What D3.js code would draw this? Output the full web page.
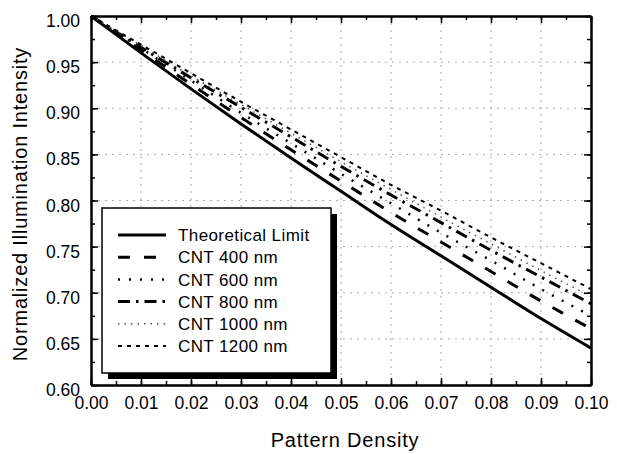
<!DOCTYPE html>
<html>
<head>
<meta charset="utf-8">
<script src="https://cdn.jsdelivr.net/npm/d3@7"></script>
<style>
  body { margin: 0; background: #fff; }
  svg { font-family: "Liberation Sans", Arial, sans-serif; }
</style>
</head>
<body>
<script>
const w = 617;
const h = 454;
const plotLeft = 91, plotRight = 591, plotTop = 16, plotBottom = 385;

// pattern density values
const xValues = [0, 0.01, 0.02, 0.03, 0.04, 0.05, 0.06, 0.07, 0.08, 0.09, 0.10];

// normalized illumination intensity
const theoretical = [1.0, 0.960, 0.921, 0.883, 0.846, 0.810, 0.774, 0.740, 0.706, 0.672, 0.640];
const cnt400 = [1.0, 0.963, 0.926, 0.890, 0.855, 0.821, 0.787, 0.755, 0.723, 0.691, 0.661];
const cnt600 = [1.0, 0.965, 0.930, 0.895, 0.862, 0.829, 0.797, 0.765, 0.735, 0.704, 0.675];
const cnt800 = [1.0, 0.966, 0.933, 0.901, 0.869, 0.837, 0.806, 0.776, 0.746, 0.717, 0.688];
const cnt1000 = [1.0, 0.968, 0.935, 0.904, 0.873, 0.842, 0.812, 0.782, 0.753, 0.724, 0.696];
const cnt1200 = [1.0, 0.969, 0.938, 0.907, 0.877, 0.847, 0.817, 0.789, 0.760, 0.732, 0.704];

const seriesNames = ["Theoretical Limit", "CNT 400 nm", "CNT 600 nm", "CNT 800 nm", "CNT 1000 nm", "CNT 1200 nm"];
const seriesValues = [theoretical, cnt400, cnt600, cnt800, cnt1000, cnt1200];

const xTicks = [0, 0.01, 0.02, 0.03, 0.04, 0.05, 0.06, 0.07, 0.08, 0.09, 0.10];
const yTicks = [0.60, 0.65, 0.70, 0.75, 0.80, 0.85, 0.90, 0.95, 1.00];

// line styles per series
const styles = [
  { width: 3, dash: null, color: "#000" },
  { width: 3, dash: "12,14", color: "#000" },
  { width: 2.5, dash: "2,9", color: "#000" },
  { width: 3, dash: "12,6,2.5,6", color: "#000" },
  { width: 1.5, dash: "1.5,5", color: "#555" },
  { width: 2, dash: "4,5", color: "#000" }
];

const svg = d3.select("body").append("svg").attr("width", w).attr("height", h);

const x = d3.scaleLinear().domain([0, 0.10]).range([plotLeft, plotRight]);
const y = d3.scaleLinear().domain([0.60, 1.00]).range([plotBottom, plotTop]);

// grid
svg.append("g")
  .selectAll("line")
  .data(xTicks.slice(1, -1))
  .enter()
  .append("line")
  .attr("x1", d => x(d)).attr("x2", d => x(d))
  .attr("y1", plotTop).attr("y2", plotBottom)
  .style("stroke", "#aaa")
  .style("stroke-width", 1)
  .style("stroke-dasharray", "2,5");

svg.append("g")
  .selectAll("line")
  .data(yTicks.slice(1, -1))
  .enter()
  .append("line")
  .attr("x1", plotLeft).attr("x2", plotRight)
  .attr("y1", d => y(d)).attr("y2", d => y(d))
  .style("stroke", "#aaa")
  .style("stroke-width", 1)
  .style("stroke-dasharray", "2,5");

// series
const line = d3.line()
  .x((d, i) => x(xValues[i]))
  .y(d => y(d))
  .curve(d3.curveMonotoneX);

svg.append("g")
  .selectAll("path")
  .data(seriesValues)
  .enter()
  .append("path")
  .attr("d", d => line(d))
  .style("fill", "none")
  .style("stroke", (d, i) => styles[i].color)
  .style("stroke-width", (d, i) => styles[i].width)
  .style("stroke-dasharray", (d, i) => styles[i].dash);

// axes: ticks pointing inward on all four sides
const minorX = d3.range(0, 0.1001, 0.005);
const minorY = d3.range(0.60, 1.0001, 0.025);

const bottomAxis = d3.axisBottom(x).tickValues(xTicks).tickFormat(d3.format(".2f")).tickSizeInner(-7).tickSizeOuter(0).tickPadding(15);
const topAxis = d3.axisTop(x).tickValues(xTicks).tickFormat("").tickSizeInner(-7).tickSizeOuter(0);
const leftAxis = d3.axisLeft(y).tickValues(yTicks).tickFormat(d3.format(".2f")).tickSizeInner(-7).tickSizeOuter(0).tickPadding(11);
const rightAxis = d3.axisRight(y).tickValues(yTicks).tickFormat("").tickSizeInner(-7).tickSizeOuter(0);

svg.append("g").attr("transform", `translate(0,${plotBottom})`)
  .call(d3.axisBottom(x).tickValues(minorX).tickFormat("").tickSizeInner(-4).tickSizeOuter(0));
svg.append("g").attr("transform", `translate(0,${plotTop})`)
  .call(d3.axisTop(x).tickValues(minorX).tickFormat("").tickSizeInner(-4).tickSizeOuter(0));
svg.append("g").attr("transform", `translate(${plotLeft},0)`)
  .call(d3.axisLeft(y).tickValues(minorY).tickFormat("").tickSizeInner(-4).tickSizeOuter(0));
svg.append("g").attr("transform", `translate(${plotRight},0)`)
  .call(d3.axisRight(y).tickValues(minorY).tickFormat("").tickSizeInner(-4).tickSizeOuter(0));

const gx = svg.append("g").attr("transform", `translate(0,${plotBottom})`).call(bottomAxis);
svg.append("g").attr("transform", `translate(0,${plotTop})`).call(topAxis);
const gy = svg.append("g").attr("transform", `translate(${plotLeft},0)`).call(leftAxis);
svg.append("g").attr("transform", `translate(${plotRight},0)`).call(rightAxis);

svg.selectAll(".domain").style("stroke", "#000").style("stroke-width", 2);
svg.selectAll(".tick line").style("stroke", "#000").style("stroke-width", 1.5);
svg.selectAll(".tick text").style("font-size", "17.5px").style("fill", "#000").style("font-family", "'Liberation Sans', Arial, sans-serif");
gy.selectAll(".tick text").attr("dy", "0.6em");
gx.selectAll(".tick text").attr("dy", "0.5em");

// axis titles
svg.append("text")
  .text("Pattern Density")
  .attr("x", 345)
  .attr("y", 447)
  .attr("text-anchor", "middle")
  .style("font-size", "20px")
  .style("letter-spacing", "0.8px");

svg.append("text")
  .text("Normalized Illumination Intensity")
  .attr("transform", "translate(27,204) rotate(-90)")
  .attr("text-anchor", "middle")
  .style("font-size", "20px")
  .style("letter-spacing", "0.8px");

// legend with drop shadow
const lg = svg.append("g");
lg.append("rect").attr("x", 108).attr("y", 214).attr("width", 229).attr("height", 165).style("fill", "#000");
lg.append("rect").attr("x", 102).attr("y", 208).attr("width", 229).attr("height", 165)
  .style("fill", "#fff").style("stroke", "#000").style("stroke-width", 1.5);

const rows = lg.selectAll("g.row")
  .data(seriesNames)
  .enter()
  .append("g")
  .attr("class", "row")
  .attr("transform", (d, i) => `translate(0,${235 + i * 22.2})`);

rows.append("line")
  .attr("x1", 118).attr("x2", 166)
  .attr("y1", 0).attr("y2", 0)
  .style("stroke", (d, i) => styles[i].color)
  .style("stroke-width", (d, i) => styles[i].width)
  .style("stroke-dasharray", (d, i) => styles[i].dash);

rows.append("text")
  .text(d => d)
  .attr("x", 178)
  .attr("y", 0)
  .attr("dy", "0.36em")
  .style("font-size", "17px")
  .style("letter-spacing", "0.4px");
</script>
</body>
</html>
